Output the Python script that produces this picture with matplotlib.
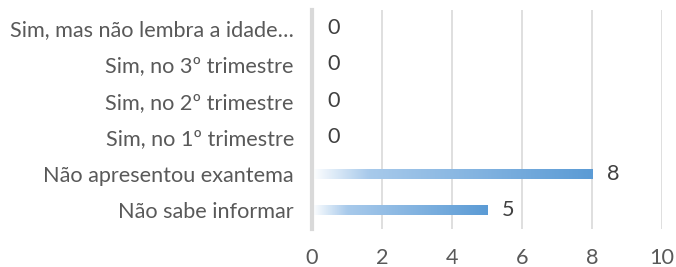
import matplotlib
matplotlib.use("Agg")
import matplotlib.pyplot as plt
import numpy as np
from matplotlib.colors import LinearSegmentedColormap

categories = ["Não sabe informar", "Não apresentou exantema", "Sim, no 1º trimestre",
              "Sim, no 2º trimestre", "Sim, no 3º trimestre", "Sim, mas não lembra a idade…"]
values = [5, 8, 0, 0, 0, 0]
xticks = [0, 2, 4, 6, 8, 10]

plt.rcParams['font.family'] = ['Lato', 'DejaVu Sans']
text_color = "#595959"
fs = 15.6

fig = plt.figure(figsize=(6.76, 2.67), dpi=100)
ax = fig.add_axes([0.4615, 0.1433, 0.5178, 0.8202])

cmap = LinearSegmentedColormap.from_list(
    "g", [(0, "#ffffff"), (0.2, "#a8caeb"), (1.0, "#5b9bd5")])
grad = np.linspace(0, 1, 256).reshape(1, -1)
h = 0.27
ypos = np.arange(len(categories))
bars = ax.barh(ypos, values, height=h, color="none", edgecolor="none", zorder=2)
for b, v in zip(bars, values):
    if v > 0:
        y0 = b.get_y()
        ax.imshow(grad, cmap=cmap, aspect="auto", extent=[0, v, y0, y0 + h],
                  zorder=2, interpolation="bilinear")
for y, v in zip(ypos, values):
    ax.annotate(str(v), (v, y), xytext=(11, 0), textcoords="offset points",
                ha="left", va="center", fontsize=fs, color="#404040")

ax.set_xlim(0, 10)
ax.set_ylim(-0.5, len(categories) - 0.5)
ax.set_xticks(xticks)
ax.set_yticks(ypos)
ax.set_yticklabels(categories)
ax.tick_params(axis="both", length=0, labelsize=fs, labelcolor=text_color)
ax.tick_params(axis="x", pad=14)
ax.tick_params(axis="y", pad=13)
ax.grid(axis="x", color="#d9d9d9", linewidth=1.2, zorder=0)
ax.set_axisbelow(True)
for s in ["top", "right", "bottom"]:
    ax.spines[s].set_visible(False)
ax.spines["left"].set_color("#d9d9d9")
ax.spines["left"].set_linewidth(3)
ax.spines["left"].set_zorder(3)

fig.savefig("out.png", dpi=100)
